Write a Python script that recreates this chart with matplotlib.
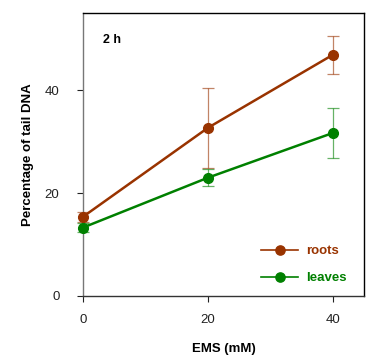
import numpy as np
from matplotlib import pyplot as plt

plt.rcParams['font.family'] = ['Liberation Sans', 'DejaVu Sans']

ems = [0, 20, 40]
roots = [15.4, 32.7, 46.9]
roots_err = [1.0, 7.8, 3.7]
leaves = [13.3, 23.0, 31.7]
leaves_err = [0.8, 1.6, 4.9]

c_roots = '#993300'
c_leaves = '#008000'

fig = plt.figure(figsize=(3.66, 3.58), dpi=100)
ax = fig.add_axes([0.2268, 0.1732, 0.7686, 0.7905])

for y, e, c, lab in [(roots, roots_err, c_roots, 'roots'), (leaves, leaves_err, c_leaves, 'leaves')]:
    ax.errorbar(ems, y, yerr=e, fmt='none', ecolor=c, elinewidth=0.9, capsize=4,
                capthick=0.9, alpha=0.6, clip_on=False, zorder=2)
    ax.plot(ems, y, '-o', color=c, lw=1.8, ms=7, label=lab, clip_on=False, zorder=3)

ax.set_xlim(0, 45)
ax.set_ylim(0, 55)
ax.set_xticks([0, 20, 40])
ax.set_yticks([0, 20, 40])
ax.tick_params(direction='out', length=4, width=0.8, labelsize=9.5, colors='#222222')
ax.tick_params(axis='x', pad=9)
ax.tick_params(axis='y', pad=13)
ax.spines['left'].set_color('#777777')
ax.spines['bottom'].set_color('#333333')
for s in ax.spines.values():
    s.set_linewidth(1.0)

ax.set_xlabel('EMS (mM)', fontsize=9.5, fontweight='bold', labelpad=12)
ax.set_ylabel('Percentage of tail DNA', fontsize=9.5, fontweight='bold', labelpad=8)
ax.text(0.07, 0.905, '2 h', transform=ax.transAxes, fontsize=9, fontweight='bold', va='center')

leg = ax.legend(loc='lower right', bbox_to_anchor=(0.98, 0.0), frameon=False, fontsize=9.5,
                handlelength=2.8, handletextpad=0.6, labelspacing=1.1, markerscale=0.95)
for t, c in zip(leg.get_texts(), [c_roots, c_leaves]):
    t.set_color(c)
    t.set_fontweight('bold')
for h in leg.get_lines():
    h.set_linewidth(1.2)

plt.savefig('out.png', dpi=100)
